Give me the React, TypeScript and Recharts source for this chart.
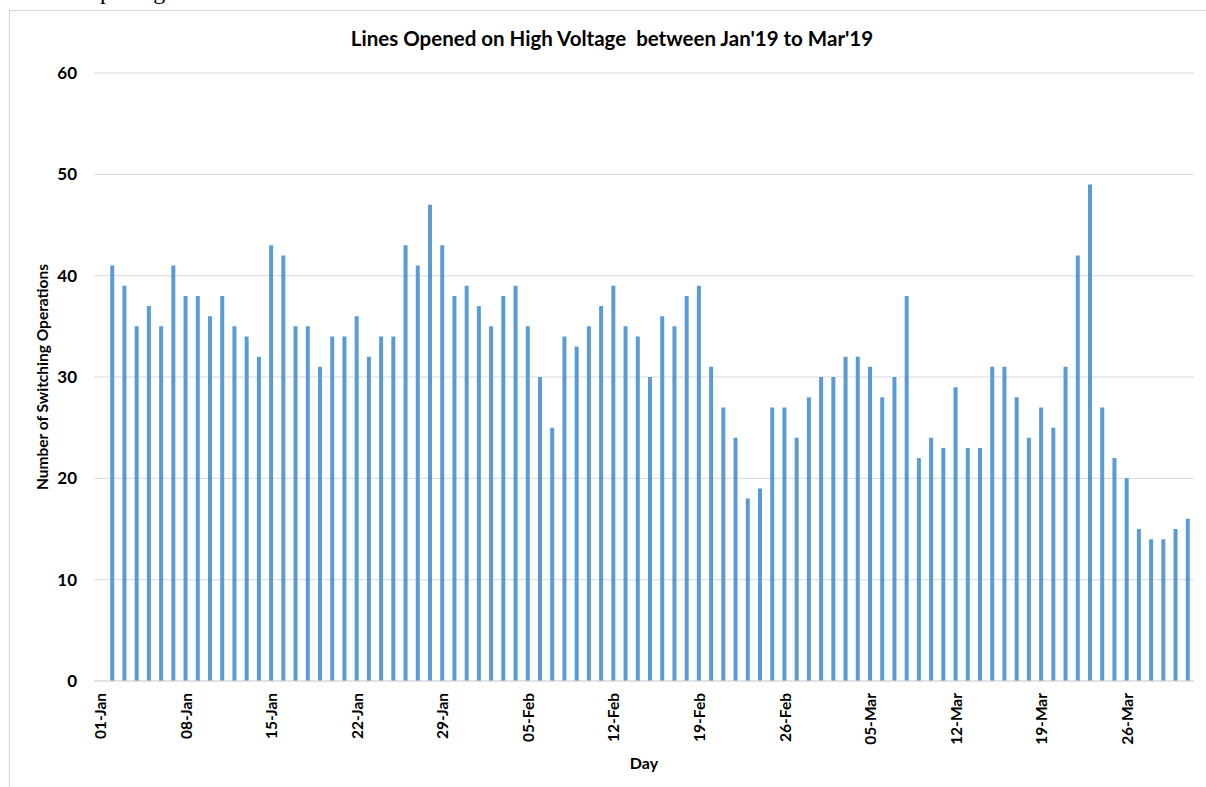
import React from 'react';
import { BarChart, Bar, XAxis, YAxis, CartesianGrid } from 'recharts';

// Daily values, Jan 1 .. Mar 31 2019 (first slot has no bar)
const janValues: (number | null)[] = [null, 41, 39, 35, 37, 35, 41, 38, 38, 36, 38, 35, 34, 32, 43, 42, 35, 35, 31, 34, 34, 36, 32, 34, 34, 43, 41, 47, 43, 38, 39];
const febValues: (number | null)[] = [37, 35, 38, 39, 35, 30, 25, 34, 33, 35, 37, 39, 35, 34, 30, 36, 35, 38, 39, 31, 27, 24, 18, 19, 27, 27, 24, 28];
const marValues: (number | null)[] = [30, 30, 32, 32, 31, 28, 30, 38, 22, 24, 23, 29, 23, 23, 31, 31, 28, 24, 27, 25, 31, 42, 49, 27, 22, 20, 15, 14, 14, 15, 16];

const months = ['Jan', 'Feb', 'Mar'];
const monthValues = [janValues, febValues, marValues];

const yTicks = [0, 10, 20, 30, 40, 50, 60];
const xTickLabels = ['01-Jan', '08-Jan', '15-Jan', '22-Jan', '29-Jan', '05-Feb', '12-Feb', '19-Feb', '26-Feb', '05-Mar', '12-Mar', '19-Mar', '26-Mar'];

const pad = (n: number) => (n < 10 ? '0' + n : '' + n);
const data = monthValues.flatMap((vals, mi) =>
  vals.map((v, i) => ({ day: `${pad(i + 1)}-${months[mi]}`, value: v }))
);

const FONT = 'Lato, "Open Sans", sans-serif';

const XTick = (props: any) => {
  const { x, y, payload } = props;
  if (!xTickLabels.includes(payload.value)) return null;
  const ty = y + 12;
  return (
    <text
      x={x}
      y={ty}
      transform={`rotate(-90, ${x}, ${ty})`}
      textAnchor="end"
      dominantBaseline="central"
      fontFamily={FONT}
      fontWeight={700}
      fontSize={15.5}
      fill="#000"
    >
      {payload.value}
    </text>
  );
};

export default function App() {
  return (
    <div style={{ position: 'fixed', left: 0, top: 0, width: 1206, height: 787, overflow: 'hidden', background: '#fff' }}>
      <div
        style={{
          position: 'absolute',
          left: 88,
          top: -21,
          fontFamily: '"Liberation Serif", "Times New Roman", serif',
          fontSize: 24,
          lineHeight: '24px',
          color: '#000',
          whiteSpace: 'pre',
        }}
      >
        opening
      </div>
      <div
        style={{
          position: 'absolute',
          left: 9,
          top: 10,
          width: 1400,
          height: 1000,
          border: '1px solid #d6d6d6',
          boxSizing: 'border-box',
        }}
      />
      <div style={{ position: 'absolute', left: 0, top: 0 }}>
        <BarChart width={1206} height={787} data={data} margin={{ top: 73, right: 12, bottom: 0, left: 0 }} barCategoryGap={0}>
          <CartesianGrid vertical={false} stroke="#d9d9d9" strokeWidth={1} />
          <XAxis
            dataKey="day"
            interval={0}
            height={106}
            tickLine={false}
            tickSize={0}
            tickMargin={0}
            axisLine={{ stroke: '#d9d9d9' }}
            tick={<XTick />}
            label={{ value: 'Day', position: 'insideBottom', offset: 18, fontFamily: FONT, fontWeight: 700, fontSize: 16, fill: '#000' }}
          />
          <YAxis
            width={94}
            domain={[0, 60]}
            ticks={yTicks}
            interval={0}
            tickLine={false}
            axisLine={false}
            tickSize={0}
            tickMargin={17}
            tick={{ fontFamily: FONT, fontWeight: 700, fontSize: 17, fill: '#000' }}
            label={{
              value: 'Number of Switching Operations',
              angle: -90,
              position: 'center',
              dx: -5,
              fontFamily: FONT,
              fontWeight: 700,
              fontSize: 15.5,
              fill: '#000',
            }}
          />
          <Bar dataKey="value" fill="#5b9bd5" barSize={4} isAnimationActive={false} />
        </BarChart>
      </div>
      <div
        style={{
          position: 'absolute',
          left: 0,
          top: 28,
          width: 1224,
          textAlign: 'center',
          fontFamily: FONT,
          fontWeight: 700,
          fontSize: 20.5,
          lineHeight: '20.5px',
          color: '#000',
          whiteSpace: 'pre',
        }}
      >
        {"Lines Opened on High Voltage  between Jan'19 to Mar'19"}
      </div>
    </div>
  );
}
